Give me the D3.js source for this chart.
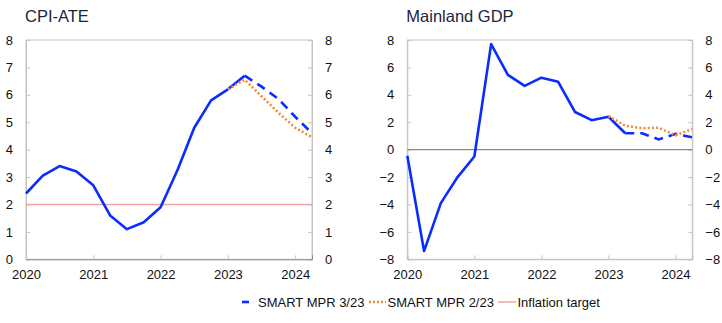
<!DOCTYPE html>
<html>
<head>
    <meta charset="utf-8">
    <title>CPI-ATE and Mainland GDP</title>
    <script src="https://cdnjs.cloudflare.com/ajax/libs/d3/7.8.5/d3.min.js"></script>
    <style>
        body { margin: 0; background: #fff; }
        svg { font-family: "Liberation Sans", Arial, sans-serif; }
    </style>
</head>
<body>
    <div id="chart"></div>
    <script>
        // quarters, 2020Q1 .. 2024Q2
        const quarters = [2020, 2020.25, 2020.5, 2020.75, 2021, 2021.25, 2021.5, 2021.75,
                          2022, 2022.25, 2022.5, 2022.75, 2023, 2023.25, 2023.5, 2023.75,
                          2024, 2024.25];
        const yearTicks = [2020, 2021, 2022, 2023, 2024];
        const lastHistory = 2023.25;

        const cpiMpr323 = [2.4, 3.05, 3.4, 3.2, 2.7, 1.6, 1.1, 1.35, 1.9, 3.25, 4.8, 5.8,
                           6.2, 6.7, 6.3, 5.85, 5.2, 4.6];
        const cpiMpr223 = [null, null, null, null, null, null, null, null, null, null, null, null,
                           6.2, 6.55, 5.95, 5.35, 4.8, 4.45];
        const inflationTarget = 2;

        const gdpMpr323 = [-0.45, -7.4, -3.9, -2.0, -0.5, 7.7, 5.45, 4.65, 5.25, 4.95, 2.75, 2.15,
                           2.4, 1.2, 1.2, 0.75, 1.15, 0.9];
        const gdpMpr223 = [null, null, null, null, null, null, null, null, null, null, null, null,
                           2.45, 1.75, 1.56, 1.6, 1.05, 1.5];

        const cpiTicks = [0, 1, 2, 3, 4, 5, 6, 7, 8];
        const gdpTicks = [-8, -6, -4, -2, 0, 2, 4, 6, 8];

        const blue = "#0a2cff", orange = "#f28a3a", pink = "#f4a3a3";

        const svg = d3.select("#chart")
            .append("svg")
            .attr("width", 722)
            .attr("height", 323);

        function panel(opts) {
            const x = d3.scaleLinear().domain([2020, 2024.25]).range([opts.x0, opts.x1]);
            const y = d3.scaleLinear().domain(opts.domain).range([259.3, 40]);
            const g = svg.append("g");

            g.append("text")
                .attr("x", opts.x0 - 1).attr("y", 22)
                .attr("font-size", 16.5).attr("fill", "#1b2540")
                .text(opts.title);

            // frame
            g.append("rect")
                .attr("x", opts.x0).attr("y", 40)
                .attr("width", opts.x1 - opts.x0).attr("height", 219.3)
                .attr("fill", "none").attr("stroke", "#c4c4c4");

            const fmt = d => d3.format("d")(d).replace("-", "\u2212");

            g.append("g")
                .attr("transform", `translate(${opts.x0},0)`)
                .call(d3.axisLeft(y).tickValues(opts.ticks).tickSize(-4).tickPadding(13).tickFormat(fmt))
                .call(a => a.select(".domain").attr("stroke", "#c4c4c4"))
                .call(a => a.selectAll(".tick line").attr("stroke", "#c4c4c4"))
                .call(a => a.selectAll("text").attr("font-size", 13).attr("fill", "#111").attr("font-family", null));

            g.append("g")
                .attr("transform", `translate(${opts.x1},0)`)
                .call(d3.axisRight(y).tickValues(opts.ticks).tickSize(-4).tickPadding(13).tickFormat(fmt))
                .call(a => a.select(".domain").attr("stroke", "#c4c4c4"))
                .call(a => a.selectAll(".tick line").attr("stroke", "#c4c4c4"))
                .call(a => a.selectAll("text").attr("font-size", 13).attr("fill", "#111").attr("font-family", null));

            g.append("g")
                .attr("transform", "translate(0,259.3)")
                .call(d3.axisBottom(x).tickValues(yearTicks).tickSize(-4).tickPadding(10).tickFormat(d3.format("d")))
                .call(a => a.select(".domain").attr("stroke", opts.domain[0] === 0 ? "#8a8a8a" : "#c4c4c4"))
                .call(a => a.selectAll(".tick line").attr("stroke", "#c4c4c4"))
                .call(a => a.selectAll("text").attr("font-size", 13).attr("fill", "#111").attr("font-family", null));

            if (opts.domain[0] < 0) {
                g.append("line")
                    .attr("x1", opts.x0).attr("x2", opts.x1)
                    .attr("y1", y(0)).attr("y2", y(0))
                    .attr("stroke", "#8a8a8a").attr("stroke-width", 1.2);
            }

            if (opts.target !== undefined) {
                g.append("line")
                    .attr("x1", opts.x0).attr("x2", opts.x1)
                    .attr("y1", y(opts.target)).attr("y2", y(opts.target))
                    .attr("stroke", pink).attr("stroke-width", 1.5);
            }

            const line = d3.line()
                .defined(d => d[1] !== null)
                .x(d => x(d[0])).y(d => y(d[1]));

            const main = quarters.map((q, i) => [q, opts.main[i]]);
            const prev = quarters.map((q, i) => [q, opts.prev[i]]);

            g.append("path")
                .attr("d", line(main.filter(d => d[0] <= lastHistory)))
                .attr("fill", "none").attr("stroke", blue).attr("stroke-width", 2.6)
                .attr("stroke-linejoin", "round");

            g.append("path")
                .attr("d", line(main.filter(d => d[0] >= lastHistory)))
                .attr("fill", "none").attr("stroke", blue).attr("stroke-width", 2.6)
                .attr("stroke-dasharray", "9,6");

            g.append("path")
                .attr("d", line(prev))
                .attr("fill", "none").attr("stroke", orange).attr("stroke-width", 2.6)
                .attr("stroke-dasharray", "2,2.2");
        }

        panel({ title: "CPI-ATE", x0: 26, x1: 312, domain: [0, 8], ticks: cpiTicks,
                main: cpiMpr323, prev: cpiMpr223, target: inflationTarget });
        panel({ title: "Mainland GDP", x0: 407.3, x1: 692.3, domain: [-8, 8], ticks: gdpTicks,
                main: gdpMpr323, prev: gdpMpr223 });

        // legend
        const legendItems = [
            { label: "SMART MPR 3/23", color: blue, x1: 242, x2: 249, dash: null, w: 2.6 },
            { label: "SMART MPR 2/23", color: orange, x1: 369, x2: 386, dash: "2,2", w: 2.4 },
            { label: "Inflation target", color: pink, x1: 498, x2: 516, dash: null, w: 1.5 }
        ];
        const legend = svg.append("g");
        legendItems.forEach(d => {
            legend.append("line")
                .attr("x1", d.x1).attr("x2", d.x2).attr("y1", 302).attr("y2", 302)
                .attr("stroke", d.color).attr("stroke-width", d.w)
                .attr("stroke-dasharray", d.dash);
            legend.append("text")
                .attr("x", d.x2 + (d.w > 2 && !d.dash ? 9 : 1.5)).attr("y", 307)
                .attr("font-size", 13).attr("fill", "#111")
                .text(d.label);
        });
    </script>
</body>
</html>
